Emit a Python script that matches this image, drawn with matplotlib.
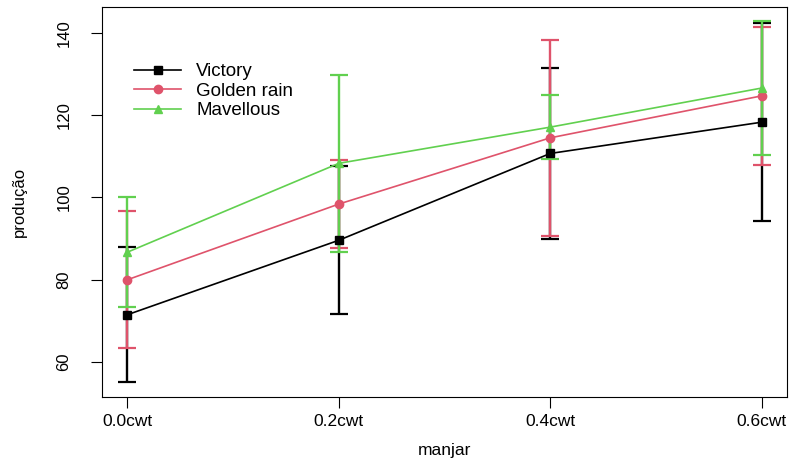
import matplotlib.pyplot as plt
from matplotlib.lines import Line2D

plt.rcParams['font.family'] = ['Liberation Sans', 'DejaVu Sans']

doses = ["0.0cwt", "0.2cwt", "0.4cwt", "0.6cwt"]
varieties = ["Victory", "Golden rain", "Mavellous"]

# mean yield and half-width of the error bar, per variety
means = {
    "Victory":     [71.5, 89.6, 110.7, 118.3],
    "Golden rain": [80.0, 98.4, 114.5, 124.7],
    "Mavellous":   [86.7, 108.3, 117.1, 126.6],
}
errors = {
    "Victory":     [16.4, 18.0, 20.8, 24.0],
    "Golden rain": [16.7, 10.7, 23.9, 16.7],
    "Mavellous":   [13.3, 21.5, 7.8, 16.2],
}

colors = ["black", "#DF536B", "#61D04F"]
markers = ["s", "o", "^"]

fig = plt.figure(figsize=(7.92, 4.59), dpi=100)
ax = fig.add_axes([0.1288, 0.1351, 0.8649, 0.8496])

x = range(1, len(doses) + 1)
handles = []
for name, col, mk in zip(varieties, colors, markers):
    ax.errorbar(x, means[name], yerr=errors[name], color=col, lw=1.2,
                elinewidth=1.7, capsize=6.5, capthick=1.6,
                marker=mk, markersize=6)
    handles.append(Line2D([], [], color=col, lw=1.2, marker=mk,
                          markersize=6, label=name))

ax.set_xlim(0.88, 4.12)
ax.set_ylim(51.5, 146.3)
ax.set_xticks(list(x))
ax.set_xticklabels(doses)
ax.set_yticks([60, 80, 100, 120, 140])
ax.tick_params(axis='y', labelrotation=90, length=8, labelsize=12, pad=14)
ax.tick_params(axis='x', length=8, labelsize=12.5, pad=4)
for lab in ax.get_yticklabels():
    lab.set_va('center')

for sp in ax.spines.values():
    sp.set_linewidth(0.8)

ax.set_xlabel("manjar", fontsize=12.5, va='center')
ax.set_ylabel("produção", fontsize=12, va='center')
ax.xaxis.set_label_coords(0.5, -0.136)
ax.yaxis.set_label_coords(-0.12, 0.5)

ax.legend(handles=handles, loc='upper left', bbox_to_anchor=(0.036, 0.875),
          frameon=False, fontsize=13.5, handlelength=2.5, labelspacing=0.12,
          handletextpad=0.8, borderaxespad=0.0)

plt.savefig('out.png', dpi=100)
